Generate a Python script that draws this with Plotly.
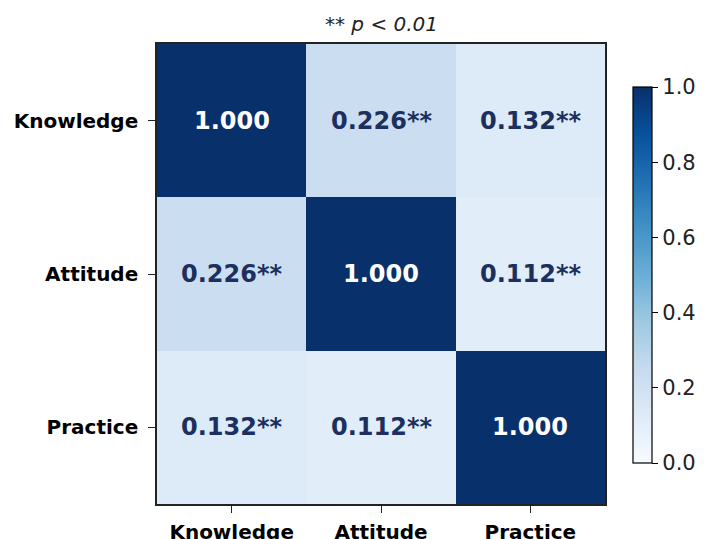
import plotly.graph_objects as go

labels = ["Knowledge", "Attitude", "Practice"]
corr = [
    [1.000, 0.226, 0.132],
    [0.226, 1.000, 0.112],
    [0.132, 0.112, 1.000],
]
sig = [
    ["", "**", "**"],
    ["**", "", "**"],
    ["**", "**", ""],
]
cb_ticks = [0.0, 0.2, 0.4, 0.6, 0.8, 1.0]

blues = ["#f7fbff", "#deebf7", "#c6dbef", "#9ecae1", "#6baed6",
         "#4292c6", "#2171b5", "#08519c", "#08306b"]
colorscale = [[i / (len(blues) - 1), c] for i, c in enumerate(blues)]

font_family = "DejaVu Sans"

# page body margin shifts the figure by ~8px; compensate
OFF = 7
L, R, T, B = 156 - OFF, 604 - OFF, 43 - OFF, 503 - OFF
W, H = 704, 539
pw, ph = R - L, B - T
cb_left, cb_mid = 632 - OFF, 274 - OFF

fig = go.Figure()
fig.add_trace(go.Heatmap(
    z=corr, x=labels, y=labels,
    zmin=0, zmax=1, colorscale=colorscale,
    hoverinfo="skip",
    colorbar=dict(
        x=(cb_left - L) / pw, xanchor="left", xpad=0,
        y=(B - cb_mid) / ph, yanchor="middle", ypad=0,
        lenmode="fraction", len=376 / ph, thickness=19,
        outlinewidth=1.2, outlinecolor="black",
        tickvals=cb_ticks, ticktext=[f"{v:.1f}" for v in cb_ticks],
        ticks="outside", ticklen=6, tickwidth=1.2, tickcolor="black",
        tickfont=dict(family=font_family, size=21, color="#222"),
    ),
))

annotations = []
for i, row in enumerate(corr):
    for j, v in enumerate(row):
        annotations.append(dict(
            x=labels[j], y=labels[i], xref="x", yref="y",
            text=f"<b>{v:.3f}{sig[i][j]}</b>", showarrow=False,
            font=dict(family=font_family, size=24,
                      color="white" if v > 0.5 else "#1c2f5e"),
        ))
annotations.append(dict(
    x=0.5, y=1, xref="paper", yref="paper", yanchor="bottom", yshift=6,
    text="<i>** p < 0.01</i>", showarrow=False,
    font=dict(family=font_family, size=20, color="#222"),
))

fig.update_layout(
    width=W, height=H,
    margin=dict(l=L, r=W - R, t=T, b=H - B, autoexpand=False),
    paper_bgcolor="white", plot_bgcolor="white",
    annotations=annotations,
    font=dict(family=font_family),
)
fig.update_xaxes(
    showline=True, linecolor="#222", linewidth=1.5, mirror=True,
    ticks="outside", ticklen=7, tickwidth=1.2, tickcolor="#222",
    ticklabelstandoff=2,
    tickfont=dict(family=font_family, size=20, color="black", weight="bold"),
    showgrid=False, zeroline=False,
)
fig.update_yaxes(
    autorange="reversed",
    showline=True, linecolor="#222", linewidth=1.5, mirror=True,
    ticks="outside", ticklen=7, tickwidth=1.2, tickcolor="#222",
    ticklabelstandoff=6,
    tickfont=dict(family=font_family, size=20, color="black", weight="bold"),
    showgrid=False, zeroline=False,
)

fig.write_html("out.html")
